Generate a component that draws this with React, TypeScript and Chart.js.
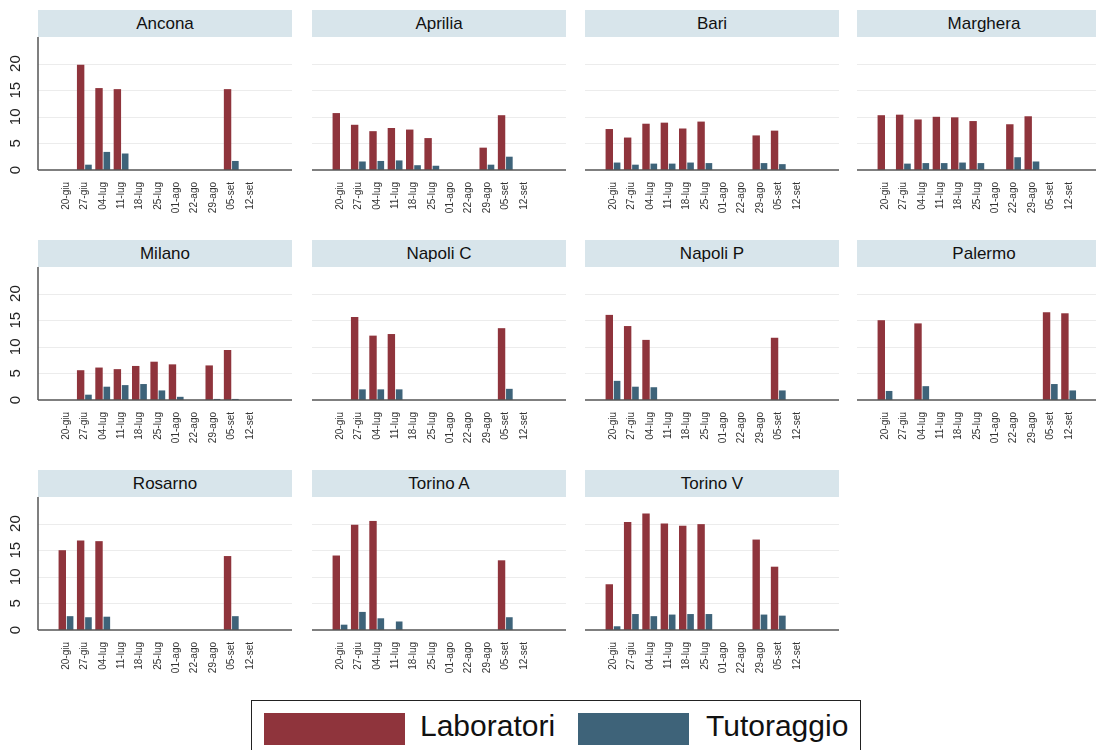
import React, { useEffect, useRef } from "react";
import { Chart, registerables } from "chart.js";
Chart.register(...registerables);

const categories = ["20-giu","27-giu","04-lug","11-lug","18-lug","25-lug","01-ago","22-ago","29-ago","05-set","12-set"];
const cities = ["Ancona","Aprilia","Bari","Marghera","Milano","Napoli C","Napoli P","Palermo","Rosarno","Torino A","Torino V"];
const laboratori = [
  [0,19.8,15.4,15.2,0,0,0,0,0,15.2,0],
  [10.7,8.5,7.3,7.9,7.6,6.0,0,0,4.2,10.3,0],
  [7.7,6.1,8.7,8.9,7.8,9.1,0,0,6.5,7.4,0],
  [10.3,10.4,9.5,10.0,9.9,9.2,0,8.6,10.1,0,0],
  [0,5.6,6.1,5.8,6.4,7.2,6.7,0,6.5,9.4,0],
  [0,15.6,12.1,12.4,0,0,0,0,0,13.5,0],
  [16.0,13.9,11.3,0,0,0,0,0,0,11.7,0],
  [15.0,0,14.4,0,0,0,0,0,0,16.5,16.3],
  [15.0,16.8,16.7,0,0,0,0,0,0,13.9,0],
  [14.0,19.8,20.5,0,0,0,0,0,0,13.1,0],
  [8.6,20.3,21.9,20.0,19.6,19.9,0,0,17.0,11.9,0],
];
const tutoraggio = [
  [0,1.0,3.4,3.1,0,0,0,0,0,1.7,0],
  [0,1.6,1.7,1.8,0.9,0.8,0,0,1.0,2.5,0],
  [1.4,1.0,1.2,1.2,1.4,1.3,0,0,1.3,1.1,0],
  [0,1.2,1.3,1.3,1.4,1.3,0,2.4,1.6,0,0],
  [0,1.0,2.5,2.8,3.0,1.8,0.6,0,0.2,0.2,0],
  [0,2.0,2.0,2.0,0,0,0,0,0,2.1,0],
  [3.6,2.5,2.4,0,0,0,0,0,0,1.8,0],
  [1.7,0,2.6,0,0,0,0,0,0,3.0,1.8],
  [2.6,2.4,2.5,0,0,0,0,0,0,2.6,0],
  [1.0,3.4,2.2,1.6,0,0,0,0,0,2.4,0],
  [0.7,3.0,2.6,2.9,3.0,3.0,0,0,2.9,2.7,0],
];
const yTicks = [0,5,10,15,20];

const RED = "#8f343c";
const BLUE = "#3e6379";
const FONT = "'Liberation Sans', Arial, sans-serif";
const colLeft = [38, 312, 585, 857];
const rowTop = [10, 240, 470];
const PW = 254;
const HH = 27;
const PH = 133;

function Panel({ idx }: { idx: number }) {
  const ref = useRef<HTMLCanvasElement>(null);
  const col = idx % 4, row = Math.floor(idx / 4);
  useEffect(() => {
    const showY = col === 0;
    const plugin = {
      id: "frame",
      beforeDatasetsDraw(chart: any) {
        const ctx = chart.ctx; const y = chart.scales.y;
        const w = chart.width;
        ctx.save();
        ctx.strokeStyle = "#ececec"; ctx.lineWidth = 1;
        yTicks.forEach((t) => {
          if (t === 0) return;
          const py = Math.round(y.getPixelForValue(t)) + 0.5;
          ctx.beginPath(); ctx.moveTo(38, py); ctx.lineTo(w, py); ctx.stroke();
        });
        ctx.restore();
      },
      afterDatasetsDraw(chart: any) {
        const ctx = chart.ctx; const y = chart.scales.y; const w = chart.width;
        ctx.save();
        ctx.strokeStyle = "#555"; ctx.lineWidth = 1.5;
        const by = y.getPixelForValue(0);
        ctx.beginPath(); ctx.moveTo(38, by); ctx.lineTo(w, by); ctx.stroke();
        if (showY) {
          ctx.beginPath(); ctx.moveTo(38, y.getPixelForValue(25)); ctx.lineTo(38, by); ctx.stroke();
          ctx.fillStyle = "#222"; ctx.font = `15px ${FONT}`;
          ctx.textAlign = "center"; ctx.textBaseline = "middle";
          yTicks.forEach((t) => {
            ctx.save(); ctx.translate(16, y.getPixelForValue(t)); ctx.rotate(-Math.PI / 2);
            ctx.fillText(String(t), 0, 0); ctx.restore();
          });
        }
        ctx.restore();
      },
    };
    const chart = new Chart(ref.current!, {
      type: "bar",
      data: {
        labels: categories,
        datasets: [
          { label: "Laboratori", data: laboratori[idx], backgroundColor: RED, barPercentage: 0.95, categoryPercentage: 0.85 },
          { label: "Tutoraggio", data: tutoraggio[idx], backgroundColor: BLUE, barPercentage: 0.85, categoryPercentage: 0.85 },
        ],
      },
      options: {
        animation: false, responsive: false,
        layout: { padding: { left: 38 + 19, right: 33, top: 0, bottom: 0 } },
        plugins: { legend: { display: false }, tooltip: { enabled: false } },
        scales: {
          x: {
            grid: { display: false }, border: { display: false },
            ticks: { color: "#333", font: { size: 10, family: FONT }, minRotation: 90, maxRotation: 90, padding: 4, autoSkip: false },
            afterFit: (s: any) => { s.height = 50; },
          },
          y: { display: false, min: 0, max: 25 },
        },
      },
      plugins: [plugin],
    });
    return () => chart.destroy();
  }, [idx]);
  const left = colLeft[col], top = rowTop[row];
  return (
    <>
      <div style={{ position: "absolute", left, top, width: PW, height: HH, background: "#d8e5eb", font: `17px ${FONT}`, color: "#111", textAlign: "center", lineHeight: HH + "px" }}>{cities[idx]}</div>
      <canvas ref={ref} width={PW + 38} height={PH + 50} style={{ position: "absolute", left: left - 38, top: top + HH, width: PW + 38, height: PH + 50 }} />
    </>
  );
}

export default function App() {
  return (
    <div style={{ position: "fixed", left: 0, top: 0, width: 1096, height: 750, overflow: "hidden", background: "#fff", fontFamily: FONT }}>
      {cities.map((_, i) => <Panel key={i} idx={i} />)}
      <div style={{ position: "absolute", left: 251, top: 700, width: 610, height: 60, border: "1.5px solid #222", boxSizing: "border-box" }}>
        <div style={{ position: "absolute", left: 12, top: 12, width: 141, height: 32, background: RED }} />
        <div style={{ position: "absolute", left: 168, top: 8, font: `30px ${FONT}`, color: "#111" }}>Laboratori</div>
        <div style={{ position: "absolute", left: 326, top: 12, width: 111, height: 32, background: BLUE }} />
        <div style={{ position: "absolute", left: 454, top: 8, font: `30px ${FONT}`, color: "#111" }}>Tutoraggio</div>
      </div>
    </div>
  );
}
